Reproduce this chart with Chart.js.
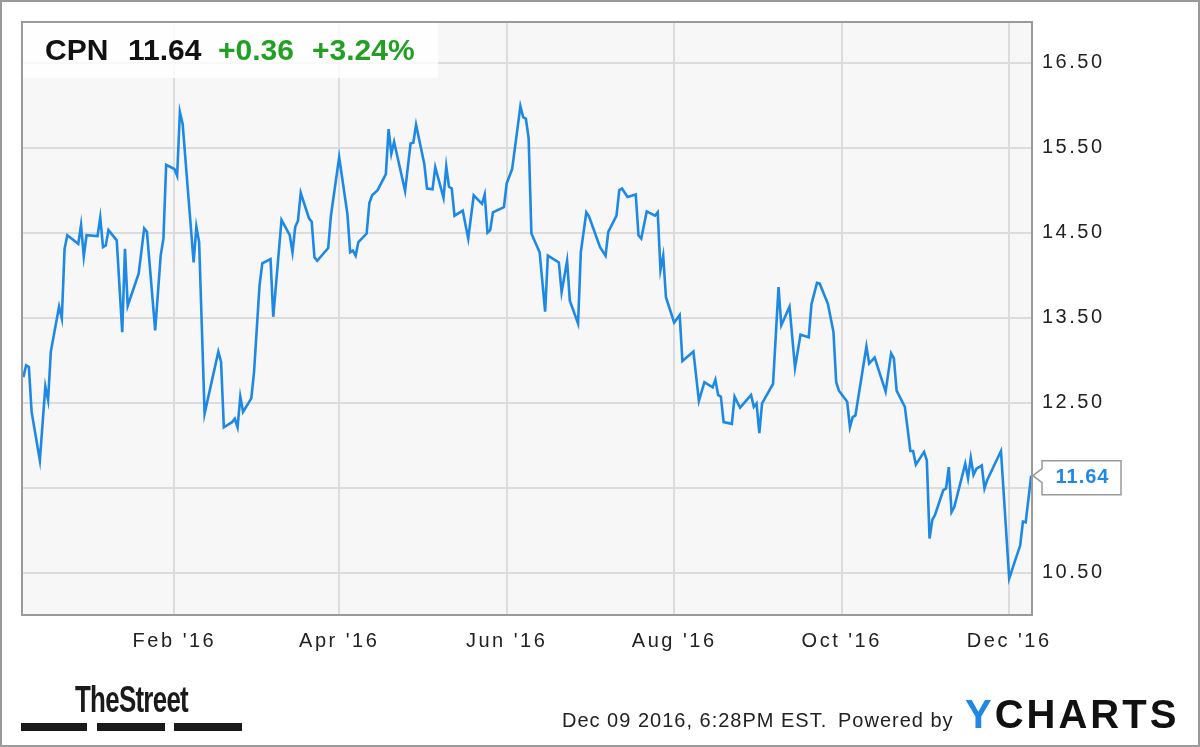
<!DOCTYPE html>
<html>
<head>
<meta charset="utf-8">
<script src="https://cdn.jsdelivr.net/npm/chart.js@4.4.0/dist/chart.umd.min.js"></script>
<style>
  html, body { margin: 0; padding: 0; background: #fff; }
  #myChart { display: block; }
</style>
</head>
<body>
<canvas id="myChart" width="1200" height="747"></canvas>
<script>
// CPN daily close
var dates = [
  '2015-12-08','2015-12-09','2015-12-10','2015-12-11','2015-12-14','2015-12-16','2015-12-17','2015-12-18',
  '2015-12-21','2015-12-22','2015-12-23','2015-12-24','2015-12-28','2015-12-29','2015-12-30','2015-12-31',
  '2016-01-04','2016-01-05','2016-01-06','2016-01-07','2016-01-08','2016-01-11','2016-01-13','2016-01-14',
  '2016-01-15','2016-01-19','2016-01-21','2016-01-22','2016-01-25','2016-01-27','2016-01-28','2016-01-29',
  '2016-02-01','2016-02-02','2016-02-03','2016-02-04','2016-02-08','2016-02-09','2016-02-10','2016-02-12',
  '2016-02-17','2016-02-18','2016-02-19','2016-02-22','2016-02-23','2016-02-24','2016-02-25','2016-02-26',
  '2016-02-29','2016-03-01','2016-03-03','2016-03-04','2016-03-07','2016-03-08','2016-03-11','2016-03-14',
  '2016-03-15','2016-03-16','2016-03-17','2016-03-18','2016-03-21','2016-03-22','2016-03-23','2016-03-24',
  '2016-03-28','2016-03-29','2016-04-01','2016-04-04','2016-04-05','2016-04-06','2016-04-07','2016-04-08',
  '2016-04-11','2016-04-12','2016-04-13','2016-04-15','2016-04-18','2016-04-19','2016-04-20','2016-04-21',
  '2016-04-25','2016-04-27','2016-04-28','2016-04-29','2016-05-02','2016-05-03','2016-05-05','2016-05-06',
  '2016-05-09','2016-05-10','2016-05-11','2016-05-12','2016-05-13','2016-05-16','2016-05-18','2016-05-20',
  '2016-05-23','2016-05-24','2016-05-25','2016-05-26','2016-05-27','2016-05-31','2016-06-01','2016-06-03',
  '2016-06-06','2016-06-07','2016-06-08','2016-06-09','2016-06-10','2016-06-13','2016-06-15','2016-06-16',
  '2016-06-20','2016-06-21','2016-06-23','2016-06-24','2016-06-27','2016-06-28','2016-06-30','2016-07-01',
  '2016-07-05','2016-07-07','2016-07-08','2016-07-11','2016-07-12','2016-07-13','2016-07-15','2016-07-18',
  '2016-07-19','2016-07-20','2016-07-22','2016-07-25','2016-07-26','2016-07-27','2016-07-28','2016-07-29',
  '2016-08-01','2016-08-03','2016-08-04','2016-08-08','2016-08-10','2016-08-12','2016-08-15','2016-08-16',
  '2016-08-17','2016-08-18','2016-08-19','2016-08-22','2016-08-23','2016-08-25','2016-08-29','2016-08-30',
  '2016-08-31','2016-09-01','2016-09-02','2016-09-06','2016-09-08','2016-09-09','2016-09-12','2016-09-14',
  '2016-09-16','2016-09-19','2016-09-20','2016-09-22','2016-09-23','2016-09-26','2016-09-28','2016-09-29',
  '2016-09-30','2016-10-03','2016-10-04','2016-10-05','2016-10-06','2016-10-10','2016-10-11','2016-10-13',
  '2016-10-17','2016-10-19','2016-10-20','2016-10-21','2016-10-24','2016-10-26','2016-10-27','2016-10-28',
  '2016-10-31','2016-11-01','2016-11-02','2016-11-03','2016-11-04','2016-11-07','2016-11-08','2016-11-09',
  '2016-11-10','2016-11-11','2016-11-15','2016-11-16','2016-11-17','2016-11-18','2016-11-19','2016-11-21',
  '2016-11-22','2016-11-23','2016-11-28','2016-12-01','2016-12-05','2016-12-06','2016-12-07','2016-12-09'
];
var prices = [
  12.80,12.94,12.92,12.39,11.82,12.69,12.53,13.10,
  13.63,13.49,14.31,14.47,14.37,14.59,14.22,14.47,
  14.46,14.68,14.33,14.35,14.53,14.41,13.33,14.31,
  13.64,14.02,14.55,14.51,13.35,14.23,14.43,15.30,
  15.25,15.17,15.92,15.78,14.15,14.57,14.39,12.37,
  13.10,12.98,12.21,12.27,12.31,12.21,12.57,12.39,
  12.55,12.86,13.88,14.14,14.19,13.51,14.65,14.47,
  14.27,14.57,14.64,14.97,14.67,14.63,14.21,14.17,
  14.32,14.70,15.39,14.72,14.27,14.29,14.23,14.39,
  14.49,14.85,14.94,15.00,15.19,15.72,15.43,15.57,
  14.99,15.55,15.56,15.77,15.31,15.02,15.01,15.27,
  14.91,15.28,15.04,15.02,14.70,14.76,14.43,14.94,
  14.84,14.95,14.50,14.53,14.74,14.80,15.08,15.25,
  15.99,15.86,15.84,15.61,14.49,14.27,13.57,14.23,
  14.15,13.80,14.17,13.70,13.43,14.27,14.74,14.69,
  14.33,14.23,14.51,14.70,15.00,15.02,14.92,14.95,
  14.47,14.43,14.75,14.70,14.74,14.06,14.23,13.74,
  13.44,13.53,12.99,13.10,12.52,12.74,12.68,12.77,
  12.59,12.57,12.27,12.25,12.57,12.44,12.59,12.45,
  12.49,12.14,12.49,12.72,13.86,13.41,13.63,12.91,
  13.30,13.27,13.66,13.91,13.90,13.66,13.33,12.74,
  12.64,12.51,12.21,12.33,12.35,13.16,12.96,13.03,
  12.63,13.08,13.02,12.64,12.45,11.93,11.93,11.77,
  11.92,11.82,10.90,11.12,11.18,11.47,11.49,11.74,
  11.21,11.27,11.78,11.61,11.85,11.65,11.72,11.76,
  11.49,11.59,11.93,10.43,10.82,11.10,11.09,11.64
];

var tickDates = ['2016-02-01','2016-04-01','2016-06-01','2016-08-01','2016-10-01','2016-12-01'];
var tickLabels = ["Feb '16","Apr '16","Jun '16","Aug '16","Oct '16","Dec '16"];
var yTicks = [10.5, 11.5, 12.5, 13.5, 14.5, 15.5, 16.5];

var symbol = 'CPN';
var change = 0.36;
var changePct = 3.24;
var stamp = 'Dec 09 2016, 6:28PM EST.';

function day(s) {
  var p = s.split('-').map(Number);
  return Date.UTC(p[0], p[1] - 1, p[2]) / 864e5;
}

var FONT = '"Liberation Sans", Arial, sans-serif';
var BLUE = '#1e88e5';
var GREEN = '#23a023';

var points = dates.map(function (d, i) { return { x: day(d), y: prices[i] }; });
var last = prices[prices.length - 1];

var frame = {
  id: 'frame',
  beforeDraw: function (chart) {
    var c = chart.ctx, a = chart.chartArea;
    c.save();
    c.fillStyle = '#fff';
    c.fillRect(0, 0, chart.width, chart.height);
    c.fillStyle = '#f7f7f7';
    c.fillRect(a.left, a.top, a.right - a.left, a.bottom - a.top);
    c.restore();
    // spaced-out axis labels like the original
    c.letterSpacing = '2.5px';
  },
  beforeDatasetsDraw: function (chart) {
    chart.ctx.letterSpacing = '0px';
  },
  afterDraw: function (chart) {
    var c = chart.ctx, a = chart.chartArea;
    c.save();
    c.letterSpacing = '0px';

    // quote box top left
    c.fillStyle = 'rgba(255,255,255,0.8)';
    c.fillRect(a.left, a.top, 416, 56);
    c.font = 'bold 30px ' + FONT;
    c.textBaseline = 'alphabetic';
    c.textAlign = 'left';
    c.fillStyle = '#111';
    c.fillText(symbol, 45, 60);
    c.fillText(last.toFixed(2), 128, 60);
    c.fillStyle = GREEN;
    c.fillText('+' + change.toFixed(2), 218, 60);
    c.fillText('+' + changePct.toFixed(2) + '%', 312, 60);

    // plot border + outer border
    c.strokeStyle = '#9a9a9a';
    c.lineWidth = 2;
    c.strokeRect(a.left, a.top, a.right - a.left, a.bottom - a.top);
    c.strokeRect(1, 1, chart.width - 2, chart.height - 2);

    // last value tag (covers the 11.50 label like the original)
    var yv = chart.scales.y.getPixelForValue(last);
    var x0 = a.right, bx = 1042, bw = 79;
    c.beginPath();
    c.moveTo(x0 + 1, yv);
    c.lineTo(bx, yv - 7);
    c.lineTo(bx, yv - 15);
    c.lineTo(bx + bw, yv - 15);
    c.lineTo(bx + bw, yv + 19);
    c.lineTo(bx, yv + 19);
    c.lineTo(bx, yv + 7);
    c.closePath();
    c.fillStyle = '#fff';
    c.fill();
    c.lineWidth = 1.5;
    c.strokeStyle = '#999';
    c.stroke();
    c.font = 'bold 20px ' + FONT;
    c.letterSpacing = '1px';
    c.fillStyle = BLUE;
    c.textAlign = 'center';
    c.textBaseline = 'middle';
    c.fillText(last.toFixed(2), bx + bw / 2 + 1, yv + 2);

    // footer: TheStreet logo
    c.textAlign = 'left';
    c.textBaseline = 'alphabetic';
    c.letterSpacing = '-1px';
    c.font = 'bold 36px ' + FONT;
    var tw = c.measureText('TheStreet').width;
    c.save();
    c.translate(75, 712);
    c.scale(113 / tw, 1);
    c.fillStyle = '#1a1a1a';
    c.fillText('TheStreet', 0, 0);
    c.restore();
    c.fillStyle = '#1a1a1a';
    c.fillRect(21, 723, 66, 8);
    c.fillRect(97, 723, 68, 8);
    c.fillRect(174, 723, 68, 8);

    // footer: timestamp + powered by
    c.letterSpacing = '1px';
    c.font = '20px ' + FONT;
    c.fillStyle = '#222';
    c.fillText(stamp, 562, 727);
    c.fillText('Powered by', 838, 727);

    c.letterSpacing = '3px';
    c.font = 'bold 40px ' + FONT;
    c.fillStyle = BLUE;
    c.fillText('Y', 965, 728);
    var yw = c.measureText('Y').width;
    c.fillStyle = '#111';
    c.fillText('CHARTS', 965 + yw, 728);
    c.restore();
  }
};

var ctx = document.getElementById('myChart').getContext('2d');
var myChart = new Chart(ctx, {
  type: 'line',
  data: {
    datasets: [{
      label: symbol,
      data: points,
      borderColor: BLUE,
      borderWidth: 2.6,
      pointRadius: 0,
      tension: 0,
      fill: false
    }]
  },
  options: {
    responsive: false,
    animation: false,
    layout: { padding: { left: 22, top: 22, right: 0, bottom: 0 } },
    plugins: {
      legend: { display: false },
      tooltip: { enabled: false }
    },
    scales: {
      x: {
        type: 'linear',
        min: day(dates[0]) - 0.5,
        max: day(dates[dates.length - 1]) + 0.3,
        afterBuildTicks: function (s) {
          s.ticks = tickDates.map(function (d) { return { value: day(d) }; });
        },
        afterFit: function (s) { s.height = 132; },
        grid: { color: '#dcdcdc', lineWidth: 2, drawTicks: false },
        border: { display: false },
        ticks: {
          autoSkip: false,
          maxRotation: 0,
          padding: 14,
          color: '#222',
          font: { family: FONT, size: 20 },
          callback: function (v, i) { return tickLabels[i]; }
        }
      },
      y: {
        position: 'right',
        min: 10,
        max: 16.98,
        afterBuildTicks: function (s) {
          s.ticks = yTicks.map(function (v) { return { value: v }; });
        },
        afterFit: function (s) { s.width = 168; },
        grid: { color: '#dcdcdc', lineWidth: 2, drawTicks: false },
        border: { display: false },
        ticks: {
          padding: 10,
          color: '#222',
          font: { family: FONT, size: 20 },
          callback: function (v) { return Number(v).toFixed(2); }
        }
      }
    }
  },
  plugins: [frame]
});
</script>
</body>
</html>
